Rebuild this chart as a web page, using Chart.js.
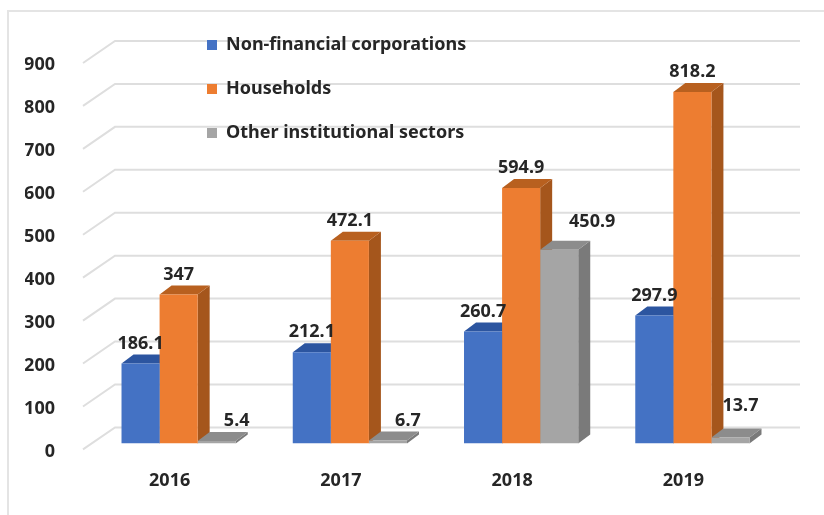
<!DOCTYPE html>
<html>
<head>
<meta charset="utf-8">
<script src="https://cdn.jsdelivr.net/npm/chart.js@4/dist/chart.umd.min.js"></script>
<style>
    html, body { margin: 0; background: #fff; }
    #wrap { position: relative; width: 824px; height: 515px; overflow: hidden; }
    #frame { position: absolute; left: 7px; top: 10px; width: 830px; height: 600px; border: 2px solid #e4e4e4; }
    canvas { position: absolute; left: 0; top: 0; filter: blur(0.7px); }
</style>
</head>
<body>
<div id="wrap">
    <div id="frame"></div>
    <canvas id="grafico" width="824" height="515"></canvas>
</div>
<script>
const years = ["2016", "2017", "2018", "2019"];
const yTicks = [0, 100, 200, 300, 400, 500, 600, 700, 800, 900];
const corporations = [186.1, 212.1, 260.7, 297.9];
const households = [347, 472.1, 594.9, 818.2];
const otherSectors = [5.4, 6.7, 450.9, 13.7];

const fontFamily = "'Noto Sans', sans-serif";
const labelFont = "bold 18px " + fontFamily;
const textColor = "#262626";

// colores de cara lateral y superior de cada serie
const sideColors = ["#2f5597", "#a5561c", "#7a7a7a"];
const topColors = ["#2c55a0", "#b8601f", "#8c8c8c"];
// desplazamiento de cada etiqueta respecto a la barra, por serie y año
const labelNudge = [
    [[0, -20], [0, -20], [0, -20], [0, -20]],
    [[0, -20], [0, -20], [0, -20], [0, -20]],
    [[20, -20], [20, -20], [33, -28], [10, -32]],
];

const depthX = 12;
const depthY = 9;

const backGrid = {
    id: "backGrid",
    beforeDraw(chart) {
        const ctx = chart.ctx;
        const y = chart.scales.y;
        ctx.save();
        ctx.strokeStyle = "#dedede";
        ctx.lineWidth = 2;
        yTicks.forEach(v => {
            const p = y.getPixelForValue(v);
            ctx.beginPath();
            ctx.moveTo(83, p + 6);
            ctx.lineTo(115, p - 16);
            ctx.lineTo(800, p - 16);
            ctx.stroke();
        });
        ctx.restore();
    },
};

const bars3d = {
    id: "bars3d",
    // las caras de fondo se pintan antes que todos los frentes
    beforeDatasetsDraw(chart) {
        const ctx = chart.ctx;
        chart.data.datasets.forEach((ds, i) => {
            chart.getDatasetMeta(i).data.forEach(bar => {
                const left = bar.x - bar.width / 2;
                const right = bar.x + bar.width / 2;
                ctx.fillStyle = sideColors[i];
                ctx.beginPath();
                ctx.moveTo(right, bar.base);
                ctx.lineTo(right + depthX, bar.base - depthY);
                ctx.lineTo(right + depthX, bar.y - depthY);
                ctx.lineTo(right, bar.y);
                ctx.closePath();
                ctx.fill();
                ctx.fillStyle = topColors[i];
                ctx.beginPath();
                ctx.moveTo(left, bar.y);
                ctx.lineTo(left + depthX, bar.y - depthY);
                ctx.lineTo(right + depthX, bar.y - depthY);
                ctx.lineTo(right, bar.y);
                ctx.closePath();
                ctx.fill();
            });
        });
    },
    afterDatasetsDraw(chart) {
        const ctx = chart.ctx;
        ctx.save();
        ctx.font = labelFont;
        ctx.fillStyle = textColor;
        ctx.textAlign = "center";
        ctx.textBaseline = "middle";
        chart.data.datasets.forEach((ds, i) => {
            chart.getDatasetMeta(i).data.forEach((bar, j) => {
                const n = labelNudge[i][j];
                ctx.fillText(String(ds.data[j]), bar.x + n[0], bar.y + n[1]);
            });
        });
        ctx.restore();
    },
};

// la leyenda va arriba del area del grafico
const moveLegend = {
    id: "moveLegend",
    afterLayout(chart) {
        const l = chart.legend;
        l.left = 181;
        l.right = 600;
        l.top = 10;
        l.bottom = 300;
    },
};

document.addEventListener("DOMContentLoaded", function () {
    const ctx = document.getElementById("grafico").getContext("2d");
    new Chart(ctx, {
        type: "bar",
        data: {
            labels: years,
            datasets: [
                { label: "Non-financial corporations", data: corporations, backgroundColor: "#4472c4" },
                { label: "Households", data: households, backgroundColor: "#ed7d31" },
                { label: "Other institutional sectors", data: otherSectors, backgroundColor: "#a5a5a5" },
            ],
        },
        options: {
            responsive: false,
            animation: false,
            layout: { padding: { left: 25, right: 46, top: 57, bottom: 4 } },
            datasets: { bar: { categoryPercentage: 0.667, barPercentage: 1 } },
            scales: {
                x: {
                    grid: { display: false },
                    border: { display: false },
                    ticks: { color: textColor, font: { family: fontFamily, size: 18, weight: "bold" }, labelOffset: -9, padding: 19, maxRotation: 0 },
                },
                y: {
                    min: 0,
                    max: 900,
                    afterBuildTicks(axis) { axis.ticks = yTicks.map(v => ({ value: v })); },
                    afterFit(axis) { axis.width = 68; },
                    grid: { display: false },
                    border: { display: false },
                    ticks: { color: textColor, font: { family: fontFamily, size: 18, weight: "bold" }, labelOffset: 8, padding: 30 },
                },
            },
            plugins: {
                tooltip: { enabled: false },
                legend: {
                    position: "chartArea",
                    align: "start",
                    labels: {
                        color: textColor,
                        font: { family: fontFamily, size: 18, weight: "bold" },
                        boxWidth: 10,
                        boxHeight: 10,
                        padding: 26,
                    },
                },
            },
        },
        plugins: [backGrid, bars3d, moveLegend],
    });
});
</script>
</body>
</html>
